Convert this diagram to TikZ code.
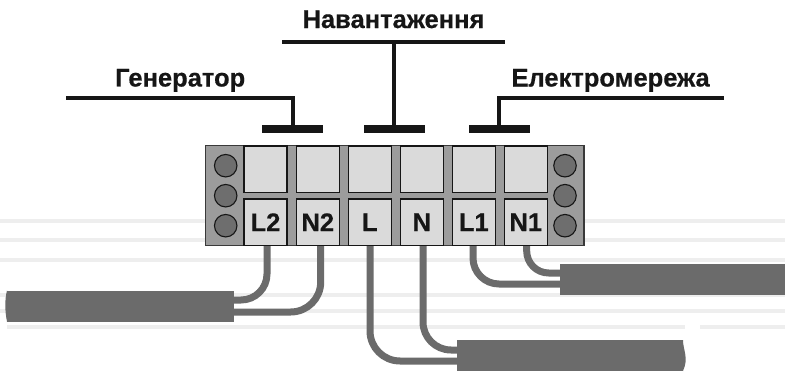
\documentclass[tikz,border=0pt]{standalone}
\usepackage{fontspec}
\setmainfont{Liberation Sans}
\newfontfamily\heavyfont[FakeBold=0.5]{Liberation Sans Bold}
\definecolor{ink}{HTML}{161616}
\definecolor{wiregray}{HTML}{6B6B6B}
\definecolor{panelgray}{HTML}{9C9C9C}
\definecolor{cellgray}{HTML}{DADADA}
\definecolor{screwgray}{HTML}{6E6E6E}
\definecolor{ghost}{HTML}{EEEEEE}
\tikzset{
  x=1pt,y=-1pt,
  ghostline/.style={draw=ghost,line width=3.6pt},
  panel/.style={draw=ink!85,line width=1.3pt,fill=panelgray},
  cell/.style={draw=ink,line width=1.2pt,fill=cellgray,minimum width=43pt,minimum height=46.5pt,inner sep=0pt,outer sep=0pt,anchor=north west,font=\fontsize{25.5}{25.5}\heavyfont,text=ink},
  screw/.style={circle,draw=ink,line width=1.1pt,fill=screwgray,minimum size=22.5pt,inner sep=0pt},
  busbar/.style={fill=ink,minimum width=61pt,minimum height=8pt,inner sep=0pt,outer sep=0pt,anchor=north west},
  leader/.style={draw=ink,line width=3.2pt},
  wire/.style={draw=wiregray,line width=7pt},
  cable/.style={fill=wiregray,inner sep=0pt,outer sep=0pt,minimum height=31pt,anchor=north west},
  heading/.style={font=\fontsize{25.5}{25.5}\heavyfont,text=ink,inner sep=0pt,anchor=base}
}
\begin{document}
\begin{tikzpicture}
\useasboundingbox (0,0) rectangle (785,372);
\fill[white] (0,0) rectangle (785,372);
% faint background lines
\draw[ghostline] (0,221)--(785,221);
\draw[ghostline] (0,240)--(785,240);
\draw[ghostline] (0,260)--(785,260);
\draw[ghostline] (0,295)--(785,295);
\draw[ghostline] (0,311)--(785,311);
\draw[ghostline] (7,327)--(685,327);
\draw[ghostline] (700,327)--(785,327);
% cables
\node[cable,minimum width=227pt] (cableG) at (7,290.5) {};
\node[cable,minimum width=225pt] (cableM) at (560,264) {};
\node[cable,minimum width=226pt] (cableL) at (457,340) {};
\fill[wiregray] (cableG.north west) .. controls (4.5,300) and (5,312) .. (cableG.south west) -- cycle;
\fill[wiregray] (cableL.north east) .. controls (683,350) and (689,358) .. (cableL.south east) -- cycle;
% terminal block body
\draw[panel] (205.5,145.5) rectangle (584,245.5);
\foreach \n/\x in {a/244,b/296.3,c/348.3,d/400.3,e/452.3,f/504.3}{
  \node[cell] (top\n) at (\x,146) {};
}
\node[cell] (l2) at (244,199) {L2};
\node[cell] (n2) at (296.3,199) {N2};
\node[cell] (l0) at (348.3,199) {L};
\node[cell] (n0) at (400.3,199) {N};
\node[cell] (l1) at (452.3,199) {L1};
\node[cell] (n1) at (504.3,199) {N1};
\foreach \s/\y in {1/165.7,2/195.7,3/225.7}{
  \node[screw] (sl\s) at (225.7,\y) {};
  \node[screw] (sr\s) at (565,\y) {};
}
% wires
\coordinate (wl2) at (267,246);
\coordinate (wn2) at (320.7,246);
\coordinate (wl0) at (370,246);
\coordinate (wn0) at (423,246);
\coordinate (wl1) at (473,246);
\coordinate (wn1) at (526.7,246);
\draw[wire,rounded corners=26pt] (wl2) -- (267,300) -- (cableG.east |- 0,300);
\draw[wire,rounded corners=30pt] (wn2) -- (320.7,312) -- (cableG.east |- 0,312);
\draw[wire,rounded corners=30pt] (wl0) -- (370,361) -- (cableL.west |- 0,361);
\draw[wire,rounded corners=28pt] (wn0) -- (423,350) -- (cableL.west |- 0,350);
\draw[wire,rounded corners=26pt] (wl1) -- (473,284) -- (cableM.west |- 0,284);
\draw[wire,rounded corners=22pt] (wn1) -- (526.7,273) -- (cableM.west |- 0,273);
% busbars and leaders
\node[busbar] (barG) at (262,125) {};
\node[busbar] (barL) at (364,125) {};
\node[busbar] (barM) at (469,125) {};
\coordinate (endG) at (66,98);
\coordinate (endLa) at (282,42);
\coordinate (endLb) at (505,42);
\coordinate (endM) at (724,98);
\draw[leader] (endG) -- (293,98) -- (293,125);
\draw[leader] (endLa) -- (endLb);
\draw[leader] (394,42) -- (394,125);
\draw[leader] (endM) -- (499,98) -- (499,125);
% headings
\node[heading] (hG) at (180.2,86.5) {Генератор};
\node[heading] (hL) at (393.5,28) {Навантаження};
\node[heading] (hM) at (610.6,86.5) {Електромережа};
\end{tikzpicture}
\end{document}
